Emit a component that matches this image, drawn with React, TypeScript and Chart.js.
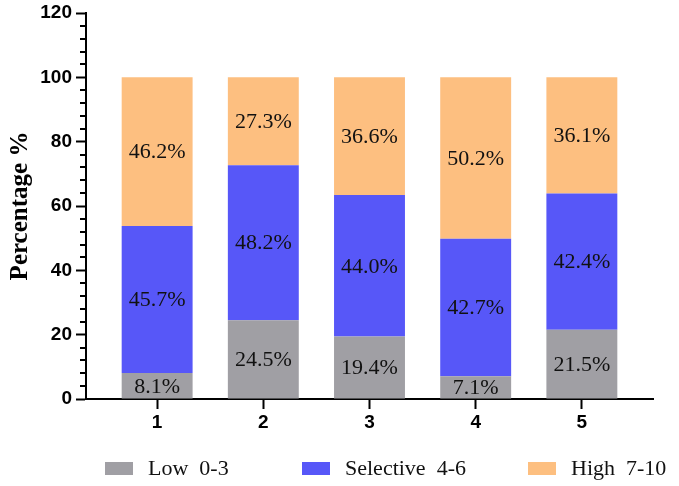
import React, { useEffect, useRef } from 'react';
import { Chart, registerables } from 'chart.js';

Chart.register(...registerables);

const groups = [1, 2, 3, 4, 5];
const lowValues = [8.1, 24.5, 19.4, 7.1, 21.5];
const selectiveValues = [45.7, 48.2, 44.0, 42.7, 42.4];
const highValues = [46.2, 27.3, 36.6, 50.2, 36.1];
const seriesNames = ['Low  0-3', 'Selective  4-6', 'High  7-10'];
const seriesColors = ['#a09fa4', '#5757f8', '#fdbf80'];
const yMin = 0;
const yMax = 120;
const yMajorStep = 20;
const yMinorStep = 4;

const barLabelPlugin = {
  id: 'barLabels',
  afterDatasetsDraw(chart: any) {
    const ctx = chart.ctx;
    ctx.save();
    ctx.font = '22px "Liberation Serif", "Times New Roman", serif';
    ctx.fillStyle = '#111';
    ctx.textAlign = 'center';
    ctx.textBaseline = 'middle';
    chart.data.datasets.forEach((ds: any, di: number) => {
      const meta = chart.getDatasetMeta(di);
      meta.data.forEach((el: any, i: number) => {
        const p = el.getProps(['x', 'y', 'base'], true);
        const v = ds.data[i].y;
        ctx.fillText(v.toFixed(1) + '%', p.x, (p.y + p.base) / 2 + 1);
      });
    });
    ctx.restore();
  },
};

const minorTickPlugin = {
  id: 'minorTicks',
  afterDraw(chart: any) {
    const y = chart.scales.y;
    const ctx = chart.ctx;
    const left = chart.chartArea.left;
    ctx.save();
    ctx.strokeStyle = '#000';
    ctx.lineWidth = 2;
    for (let v = yMin; v <= yMax; v += yMinorStep) {
      if (v % yMajorStep === 0) continue;
      const py = Math.round(y.getPixelForValue(v));
      ctx.beginPath();
      ctx.moveTo(left - 6, py);
      ctx.lineTo(left, py);
      ctx.stroke();
    }
    ctx.restore();
  },
};

const legendPlugin = {
  id: 'customLegend',
  afterDraw(chart: any, _args: any, opts: any) {
    const ctx = chart.ctx;
    ctx.save();
    ctx.font = '22px "Liberation Serif", "Times New Roman", serif';
    ctx.textBaseline = 'middle';
    ctx.textAlign = 'left';
    chart.data.datasets.forEach((ds: any, i: number) => {
      const x = opts.itemX[i];
      ctx.fillStyle = ds.backgroundColor;
      ctx.fillRect(x, opts.top, opts.boxWidth, opts.boxHeight);
      ctx.fillStyle = '#111';
      ctx.fillText(ds.label, x + opts.boxWidth + opts.gap, opts.top + opts.boxHeight / 2 + 1);
    });
    ctx.restore();
  },
};

export default function App() {
  const ref = useRef<HTMLCanvasElement | null>(null);

  useEffect(() => {
    document.body.style.margin = '0';
    const canvas = ref.current;
    if (!canvas) return;
    const seriesValues = [lowValues, selectiveValues, highValues];
    const chart = new Chart(canvas, {
      type: 'bar',
      data: {
        datasets: seriesValues.map((vals, si) => ({
          label: seriesNames[si],
          backgroundColor: seriesColors[si],
          borderWidth: 0,
          data: vals.map((v, i) => ({ x: groups[i], y: v })),
          barPercentage: 0.668,
          categoryPercentage: 1,
        })),
      },
      options: {
        responsive: false,
        animation: false,
        devicePixelRatio: 1,
        layout: { padding: { top: 13, right: 26, left: 0, bottom: 0 } },
        plugins: {
          legend: { display: false },
          tooltip: { enabled: false },
          customLegend: {
            itemX: [105, 302, 528],
            top: 462,
            boxWidth: 28,
            boxHeight: 13,
            gap: 15,
          },
        } as any,
        scales: {
          x: {
            type: 'linear',
            stacked: true,
            offset: false,
            min: groups[0] - 0.67,
            max: groups[groups.length - 1] + 0.67,
            afterBuildTicks: (scale: any) => {
              scale.ticks = groups.map((g) => ({ value: g }));
            },
            afterFit: (scale: any) => {
              scale.height = 87;
              scale.paddingLeft = 0;
              scale.paddingRight = 0;
            },
            ticks: {
              color: '#000',
              padding: 2,
              font: { family: '"Liberation Sans", Arial, sans-serif', size: 19, weight: 'bold' },
              callback: (v: any) => String(v),
            },
            grid: {
              display: true,
              offset: false,
              drawOnChartArea: false,
              drawTicks: true,
              tickLength: 10,
              tickWidth: 2,
              tickColor: '#000',
            },
            border: { display: true, color: '#000', width: 2 },
          },
          y: {
            type: 'linear',
            stacked: true,
            min: yMin,
            max: yMax,
            afterFit: (scale: any) => {
              scale.width = 86;
              scale.paddingTop = 0;
              scale.paddingBottom = 0;
            },
            ticks: {
              stepSize: yMajorStep,
              color: '#000',
              padding: 4,
              font: { family: '"Liberation Sans", Arial, sans-serif', size: 19, weight: 'bold' },
            },
            grid: {
              display: true,
              drawOnChartArea: false,
              drawTicks: true,
              tickLength: 10,
              tickWidth: 2,
              tickColor: '#000',
            },
            border: { display: true, color: '#000', width: 2 },
            title: {
              display: true,
              text: 'Percentage %',
              color: '#000',
              padding: { top: 6, bottom: 4 },
              font: { family: '"Liberation Serif", "Times New Roman", serif', size: 25, weight: 'bold' },
            },
          },
        },
      },
      plugins: [barLabelPlugin, minorTickPlugin, legendPlugin],
    });
    return () => chart.destroy();
  }, []);

  return (
    <div style={{ width: 679, height: 486 }}>
      <canvas ref={ref} width={679} height={486} style={{ display: 'block' }} />
    </div>
  );
}
